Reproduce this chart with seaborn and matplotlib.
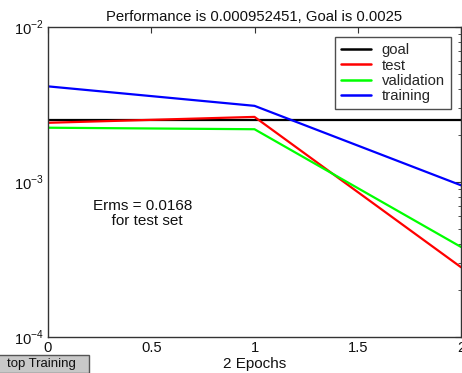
import numpy as np
import pandas as pd
import seaborn as sns
import matplotlib.pyplot as plt
from matplotlib.patches import Rectangle

# Performance per epoch (mean squared error)
epochs = [0, 1, 2]
goal = [0.0025, 0.0025, 0.0025]
test = [0.00241, 0.00263, 0.000282]
validation = [0.00224, 0.00219, 0.000381]
training = [0.00414, 0.0031, 0.000952451]

series_names = ["goal", "test", "validation", "training"]
series_colors = ["#000000", "#ff0000", "#00ff00", "#0000ff"]
x_ticks = [0, 0.5, 1, 1.5, 2]
x_tick_labels = ["0", "0.5", "1", "1.5", "2"]

title_text = "Performance is 0.000952451, Goal is 0.0025"
xlabel_text = "2 Epochs"
note_text = "Erms = 0.0168\n  for test set"
button_text = "top Training"

sns.set_style("white")
plt.rcParams["font.family"] = ["Liberation Sans", "DejaVu Sans"]
plt.rcParams["mathtext.fontset"] = "custom"
plt.rcParams["mathtext.rm"] = "Liberation Sans"

W, H = 462, 373
fig = plt.figure(figsize=(W / 100, H / 100), dpi=100)
fig.patch.set_facecolor("white")
ax = fig.add_axes([48 / W, 36 / H, 413 / W, 310 / H])

frames = []
for name, vals in zip(series_names, [goal, test, validation, training]):
    frames.append(pd.DataFrame({"epoch": epochs, "perf": vals, "series": name}))
df = pd.concat(frames, ignore_index=True)

sns.lineplot(
    data=df, x="epoch", y="perf", hue="series",
    hue_order=series_names, palette=series_colors,
    linewidth=1.6, ax=ax, legend=True,
)

ax.set_yscale("log")
ax.set_ylim(1e-4, 1e-2)
ax.set_xlim(0, 2)
ax.set_xticks(x_ticks)
ax.set_xticklabels(x_tick_labels)
ax.set_yticks([1e-4, 1e-3, 1e-2])
ax.set_yticklabels([r"$10^{-4}$", r"$10^{-3}$", r"$10^{-2}$"])

for sp in ax.spines.values():
    sp.set_visible(True)
    sp.set_color("#333333")
    sp.set_linewidth(1.0)

ax.tick_params(axis="both", which="both", direction="in", top=True, right=True,
               colors="#333333", labelcolor="#111111", labelsize=10.6)
ax.tick_params(axis="both", which="major", length=4, pad=3)
ax.tick_params(axis="y", which="minor", length=2.5)

ax.set_title(title_text, fontsize=10.7, pad=4, color="#111111")
ax.set_xlabel(xlabel_text, fontsize=11, labelpad=1, color="#111111")
ax.set_ylabel("")

leg = ax.legend(
    loc="upper right", fontsize=10.7, frameon=True, fancybox=False,
    edgecolor="#222222", handlelength=2.0, handletextpad=0.7,
    borderaxespad=0.7, labelspacing=0.08, borderpad=0.4,
)
leg.get_frame().set_linewidth(1.0)
for line in leg.get_lines():
    line.set_linewidth(1.8)

ax.text(0.23, 0.445, note_text, transform=ax.transAxes, ha="center", va="top",
        fontsize=11, color="#111111", linespacing=1.1)

# Stop button in the lower left corner of the window
fig.patches.append(Rectangle((-10 / W, 0), 99 / W, 18 / H, transform=fig.transFigure,
                             facecolor="#c8c8c8", edgecolor="#555555", linewidth=1.0))
fig.text(7 / W, 9 / H, button_text, ha="left", va="center", fontsize=9.5, color="#111111")

fig.savefig("out.png", dpi=100)
